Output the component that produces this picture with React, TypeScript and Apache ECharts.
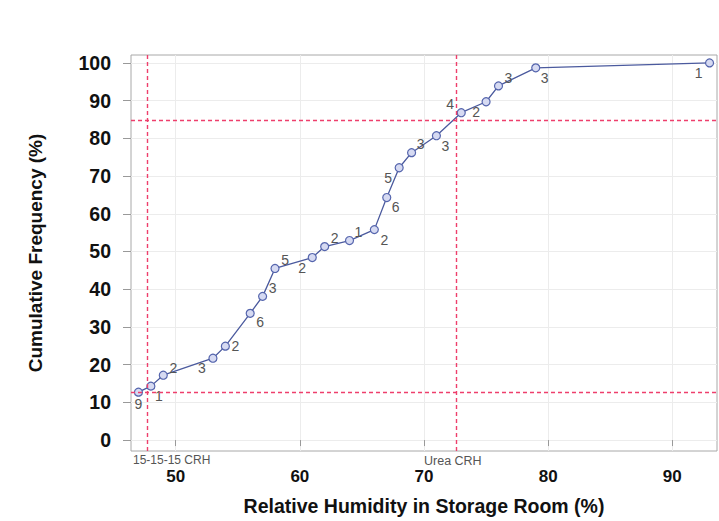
import React, { useEffect, useRef } from "react";
import * as echarts from "echarts";

// Data
const rh = [47, 48, 49, 53, 54, 56, 57, 58, 61, 62, 64, 66, 67, 68, 69, 71, 73, 75, 76, 79, 93];
const cumFreq = [12.7, 14.3, 17.2, 21.7, 24.9, 33.6, 38.1, 45.5, 48.4, 51.3, 52.9, 55.8, 64.3, 72.2, 76.2, 80.7, 86.8, 89.7, 93.9, 98.7, 100];
const counts = [9, 1, 2, 3, 2, 6, 3, 5, 2, 2, 1, 2, 6, 5, 3, 3, 4, 2, 3, 3, 1];
const xTicks = [50, 60, 70, 80, 90];
const yTicks = [0, 10, 20, 30, 40, 50, 60, 70, 80, 90, 100];
const refXValues = [47.7, 72.6];
const refXNames = ["15-15-15 CRH", "Urea CRH"];
const refYValues = [12.7, 84.7];

// Label placement (style only)
const labelOffsets: [number, number][] = [
  [0, 12], [8, 10], [10, -7], [-11, 10], [10, 0], [10, 9], [10, -8], [10, -8],
  [-10, 10], [10, -9], [9, -9], [10, 10], [9, 9], [-11, 10], [9, -9], [9, 10],
  [-11, -9], [-10, 10], [10, -8], [9, 10], [-11, 10],
];

export default function App() {
  const ref = useRef<HTMLDivElement>(null);
  useEffect(() => {
    if (!ref.current) return;
    const chart = echarts.init(ref.current, null, { renderer: "svg" });
    const font = "Liberation Sans, Arial, sans-serif";
    const points = rh.map((x, i) => ({
      value: [x, cumFreq[i]],
      label: { offset: labelOffsets[i] },
    }));
    const refColor = "#ee3f6c";
    chart.setOption({
      animation: false,
      backgroundColor: "#ffffff",
      grid: {
        left: 131,
        top: 55,
        right: 2,
        bottom: 69,
        show: true,
        borderColor: "#a8a8a8",
        borderWidth: 1,
      },
      xAxis: {
        type: "value",
        min: 46.4,
        max: 93.6,
        splitNumber: 5,
        name: "Relative Humidity in Storage Room (%)",
        nameLocation: "middle",
        nameGap: 45,
        nameTextStyle: { fontFamily: font, fontSize: 19.5, fontWeight: "bold", color: "#111" },
        axisLine: { show: false },
        axisTick: { show: true, length: 6, lineStyle: { color: "#999" }, customValues: xTicks },
        axisLabel: {
          customValues: xTicks,
          fontFamily: font,
          fontSize: 17,
          fontWeight: "bold",
          color: "#111",
          margin: 17,
        },
        splitLine: { show: true, lineStyle: { color: "#ececec", width: 1 } },
      },
      yAxis: {
        type: "value",
        min: -2.9,
        max: 102.1,
        splitNumber: 10,
        name: "Cumulative Frequency (%)",
        nameLocation: "middle",
        nameGap: 86,
        nameTextStyle: { fontFamily: font, fontSize: 19, fontWeight: "bold", color: "#111" },
        axisLine: { show: false },
        axisTick: { show: true, length: 8, lineStyle: { color: "#999" }, customValues: yTicks },
        axisLabel: {
          customValues: yTicks,
          fontFamily: font,
          fontSize: 19.5,
          fontWeight: "bold",
          color: "#111",
          margin: 20,
        },
        splitLine: { show: true, lineStyle: { color: "#ececec", width: 1 } },
      },
      series: [
        {
          type: "line",
          data: points,
          symbol: "circle",
          symbolSize: 8,
          showAllSymbol: true,
          lineStyle: { color: "#4b5a9e", width: 1.3 },
          itemStyle: { color: "#d6daf2", borderColor: "#5565ad", borderWidth: 1.2 },
          label: {
            show: true,
            position: "inside",
            formatter: (p: any) => String(counts[p.dataIndex]),
            fontFamily: font,
            fontSize: 14,
            color: "#555",
          },
          markLine: {
            silent: true,
            symbol: "none",
            label: { show: false },
            lineStyle: { color: refColor, type: [4, 3], width: 1.4 },
            data: [
              ...refXValues.map((v) => ({ xAxis: v })),
              ...refYValues.map((v) => ({ yAxis: v })),
            ],
          },
        },
      ],
      graphic: [
        {
          type: "text",
          left: 133,
          top: 454,
          style: { text: refXNames[0], fontFamily: font, fontSize: 12, fill: "#555" },
        },
        {
          type: "text",
          left: 424,
          top: 454,
          style: { text: refXNames[1], fontFamily: font, fontSize: 12.5, fill: "#555" },
        },
      ],
    });
    return () => chart.dispose();
  }, []);
  return (
    <div
      ref={ref}
      style={{ position: "absolute", left: 0, top: 0, width: 719, height: 521 }}
    />
  );
}
